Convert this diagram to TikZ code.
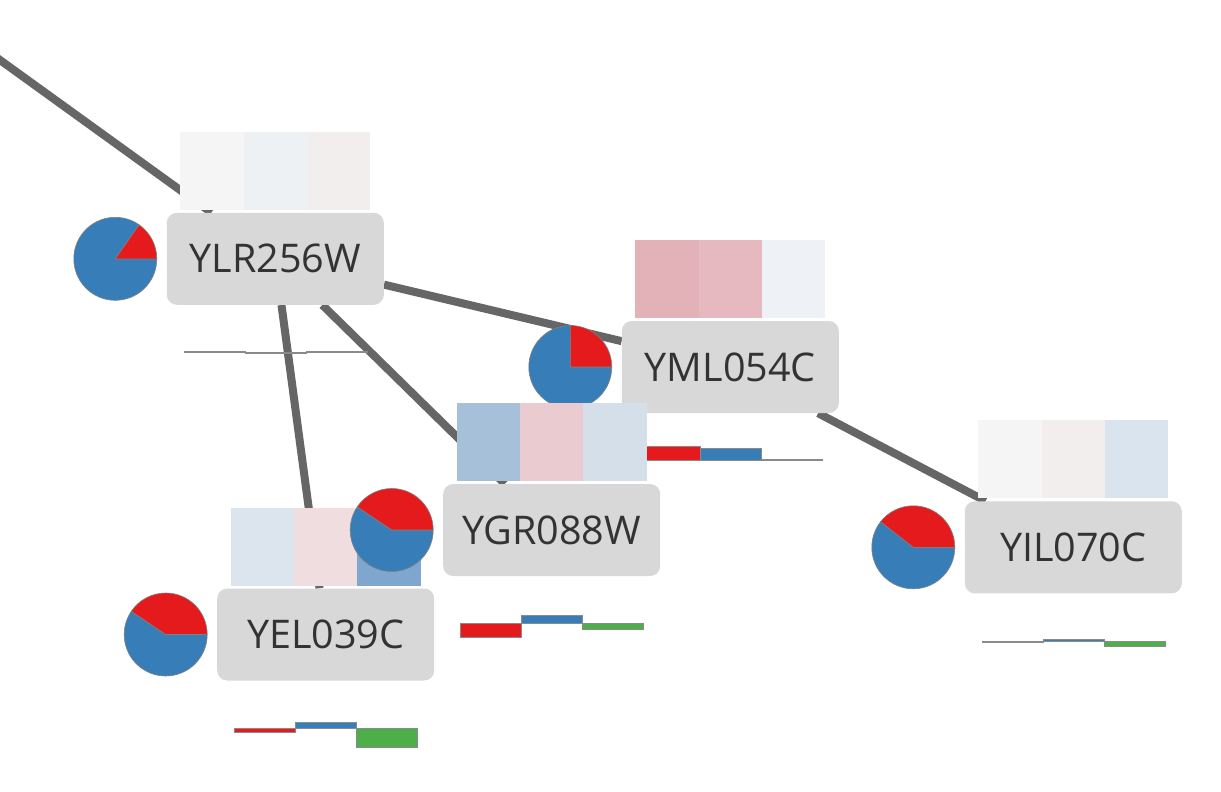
\documentclass[tikz,border=0pt]{standalone}
\usepackage{fontspec}
\newfontfamily\genefont{Open Sans}
\usetikzlibrary{backgrounds}
\definecolor{nodegray}{HTML}{D8D8D8}
\definecolor{edgegray}{HTML}{666666}
\definecolor{textgray}{HTML}{333333}
\definecolor{slicegray}{HTML}{808080}
\definecolor{bargray}{HTML}{8A8A8A}
\definecolor{piered}{HTML}{E41A1C}
\definecolor{pieblue}{HTML}{377EB8}
\definecolor{bargreen}{HTML}{4DAF4A}
% heatmap colours
\definecolor{hA}{HTML}{F5F5F5}
\definecolor{hB}{HTML}{EEF1F4}
\definecolor{hC}{HTML}{F3EEEE}
\definecolor{hD}{HTML}{E3B1B8}
\definecolor{hE}{HTML}{E5B9BF}
\definecolor{hF}{HTML}{EEF1F5}
\definecolor{hG}{HTML}{A7C0DA}
\definecolor{hH}{HTML}{EACBD0}
\definecolor{hI}{HTML}{D4DFEA}
\definecolor{hJ}{HTML}{DCE4ED}
\definecolor{hK}{HTML}{F0DDE0}
\definecolor{hL}{HTML}{7FA6CF}
\definecolor{hM}{HTML}{D9E4EE}
\tikzset{
  gene/.style={rectangle, rounded corners=10pt, fill=nodegray,
    minimum width=217pt, minimum height=92pt, inner sep=0pt,
    text=textgray, font={\genefont\fontsize{39.5}{48}\selectfont}},
  edge/.style={draw=edgegray, line width=8pt},
  slice/.style={draw=slicegray, line width=0.6pt},
  barbox/.style={draw=bargray, line width=0.5pt},
}
\newcommand\heatrow[3]{%
  \fill[#1] (-95,-127) rectangle (-31.67,-49);
  \fill[#2] (-31.67,-127) rectangle (31.67,-49);
  \fill[#3] (31.67,-127) rectangle (95,-49);}
\newcommand\piechart[1]{%
  \filldraw[slice, fill=pieblue] (-160,0) -- ++(-#1:41.5)
    arc[start angle=-#1, end angle=-360, radius=41.5] -- cycle;
  \filldraw[slice, fill=piered] (-160,0) -- ++(0:41.5)
    arc[start angle=0, end angle=-#1, radius=41.5] -- cycle;}
\newcommand\barrow[3]{%
  \filldraw[barbox, fill=piered] (-91.5,93.5) rectangle (-30.5,{93.5-(#1)});
  \filldraw[barbox, fill=pieblue] (-30.5,93.5) rectangle (30.5,{93.5-(#2)});
  \filldraw[barbox, fill=bargreen] (30.5,93.5) rectangle (91.5,{93.5-(#3)});}
\begin{document}
\begin{tikzpicture}[x=1pt, y=-1pt]
\useasboundingbox (0,0) rectangle (1221,792);
\coordinate (off) at (-30,38.4);

% YLR256W
\begin{scope}[shift={(275.3,258.8)}]
  \heatrow{hA}{hB}{hC}
  \piechart{55}
  \node[gene] (ylr) at (0,0) {YLR256W};
  \barrow{0.6}{-1}{1}
\end{scope}

% YML054C
\begin{scope}[shift={(730.3,367)}]
  \heatrow{hD}{hE}{hF}
  \piechart{90}
  \node[gene] (yml) at (0,0) {YML054C};
  \barrow{14.5}{12}{0.8}
\end{scope}

% YEL039C
\begin{scope}[shift={(325.7,634.5)}]
  \heatrow{hJ}{hK}{hL}
  \piechart{146}
  \node[gene] (yel) at (0,0) {YEL039C};
  \barrow{-4}{6}{-19.4}
\end{scope}

% YGR088W
\begin{scope}[shift={(551.7,530)}]
  \heatrow{hG}{hH}{hI}
  \piechart{146}
  \node[gene] (ygr) at (0,0) {YGR088W};
  \barrow{-13.4}{8.3}{-6}
\end{scope}

% YIL070C
\begin{scope}[shift={(1073.3,547.3)}]
  \heatrow{hA}{hC}{hM}
  \piechart{142}
  \node[gene] (yil) at (0,0) {YIL070C};
  \barrow{-1}{2}{-5.3}
\end{scope}

\begin{scope}[on background layer]
  \fill[white] (0,0) rectangle (1221,792);
  \clip (0,0) rectangle (1221,792);
  \draw[edge] (off) -- (ylr);
  \draw[edge] (ylr) -- (yml);
  \draw[edge] (ylr) -- (ygr);
  \draw[edge] (ylr) -- (yel);
  \draw[edge] (yml) -- (yil);
\end{scope}
\end{tikzpicture}
\end{document}
